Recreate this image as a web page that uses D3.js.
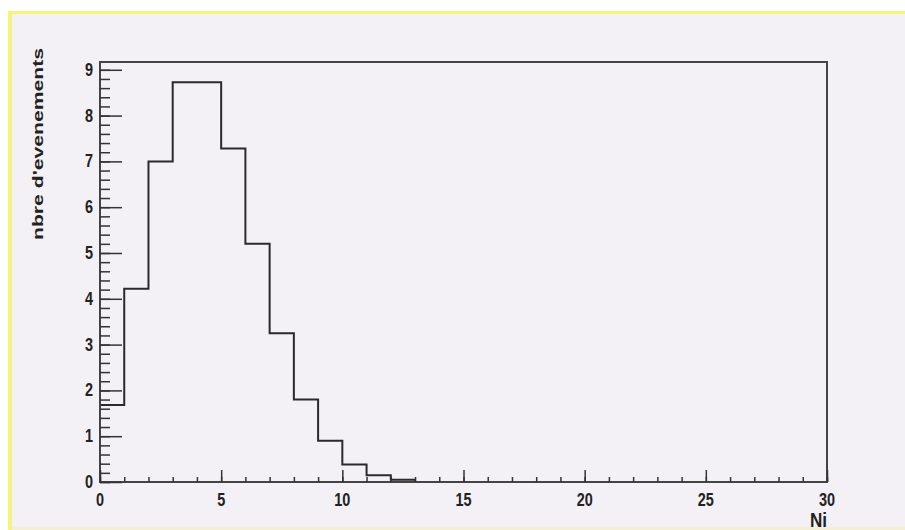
<!DOCTYPE html>
<html>
<head>
<meta charset="utf-8">
<script src="https://d3js.org/d3.v7.min.js"></script>
<style>
  body { margin: 0; background: #ffffff; }
  svg { display: block; }
</style>
</head>
<body>
<div id="chart"></div>
<script>
// bin lower edges (width 1) and contents
var binEdges = [0, 1, 2, 3, 4, 5, 6, 7, 8, 9, 10, 11, 12];
var binValues = [1.68, 4.22, 7.0, 8.73, 8.73, 7.28, 5.2, 3.25, 1.8, 0.9, 0.38, 0.15, 0.05];
var xTicks = [0, 5, 10, 15, 20, 25, 30];
var yTicks = [0, 1, 2, 3, 4, 5, 6, 7, 8, 9];

var W = 905, H = 530;
var frame = {left: 100, right: 827, top: 62, bottom: 482};

var svg = d3.select("#chart").append("svg")
  .attr("width", W).attr("height", H);

// canvas background with yellowish border
svg.append("rect").attr("x", 0).attr("y", 0).attr("width", W).attr("height", H).style("fill", "#ffffff");
svg.append("rect").attr("x", 8).attr("y", 11).attr("width", W - 8).attr("height", H - 11).style("fill", "#f7f27a");
svg.append("rect").attr("x", 12).attr("y", 14).attr("width", W - 12).attr("height", H - 17).style("fill", "#f4f1f6");
svg.append("rect").attr("x", 12).attr("y", 527).attr("width", W - 12).attr("height", 3).style("fill", "#f3efd6");

var x = d3.scaleLinear().domain([0, 30]).range([frame.left, frame.right]);
var y = d3.scaleLinear().domain([0, 9.17]).range([frame.bottom, frame.top]);

// histogram outline as a step path
var pts = [[x(binEdges[0]), y(0)]];
binEdges.forEach(function(e, i) {
  pts.push([x(e), y(binValues[i])]);
  pts.push([x(e + 1), y(binValues[i])]);
});
pts.push([x(binEdges[binEdges.length - 1] + 1), y(0)]);
svg.append("path")
  .attr("d", d3.line()(pts))
  .style("fill", "none").style("stroke", "#2a2a2a").style("stroke-width", 2);

// frame
svg.append("rect")
  .attr("x", frame.left).attr("y", frame.top)
  .attr("width", frame.right - frame.left).attr("height", frame.bottom - frame.top)
  .style("fill", "none").style("stroke", "#444").style("stroke-width", 2);

var labelFont = "Liberation Sans, Arial, sans-serif";

// x axis ticks (ticks point up, inside the frame)
var xg = svg.append("g").attr("transform", "translate(0," + frame.bottom + ")");
xg.call(d3.axisBottom(x).tickValues(d3.range(0, 31, 1)).tickSize(-5).tickFormat(""));
xg.append("g").call(d3.axisBottom(x).tickValues(xTicks).tickSize(-12).tickFormat(""));
xg.selectAll(".domain").remove();
xg.selectAll("line").style("stroke", "#333").style("stroke-width", 1.5);

xg.selectAll(".xlab").data(xTicks).enter().append("text")
  .attr("class", "xlab")
  .attr("transform", function(d) { return "translate(" + x(d) + ",24) scale(0.85,1.08)"; })
  .attr("text-anchor", "middle")
  .style("font-family", labelFont)
  .style("font-weight", "bold").style("font-size", "17px").style("fill", "#222")
  .text(function(d) { return d; });

// y axis ticks (pointing right, inside)
var yg = svg.append("g").attr("transform", "translate(" + frame.left + ",0)");
yg.call(d3.axisLeft(y).tickValues(d3.range(0, 9.2, 0.2)).tickSize(-10).tickFormat(""));
yg.append("g").call(d3.axisLeft(y).tickValues(yTicks).tickSize(-22).tickFormat(""));
yg.selectAll(".domain").remove();
yg.selectAll("line").style("stroke", "#333").style("stroke-width", 1.5);

yg.selectAll(".ylab").data(yTicks).enter().append("text")
  .attr("class", "ylab")
  .attr("transform", function(d) { return "translate(-7," + (y(d) + 6) + ") scale(0.85,1.08)"; })
  .attr("text-anchor", "end")
  .style("font-family", labelFont)
  .style("font-weight", "bold").style("font-size", "17px").style("fill", "#222")
  .text(function(d) { return d; });

// axis titles
svg.append("text")
  .attr("transform", "translate(43,240) rotate(-90)")
  .attr("text-anchor", "start")
  .attr("textLength", 192).attr("lengthAdjust", "spacingAndGlyphs")
  .style("font-family", labelFont)
  .style("font-weight", "bold").style("font-size", "15px").style("fill", "#222")
  .text("nbre d'evenements");

svg.append("text")
  .attr("transform", "translate(" + frame.right + ",527) scale(0.9,1.05)")
  .attr("text-anchor", "end")
  .style("font-family", labelFont)
  .style("font-weight", "bold").style("font-size", "19px").style("fill", "#222")
  .text("Ni");
</script>
</body>
</html>
